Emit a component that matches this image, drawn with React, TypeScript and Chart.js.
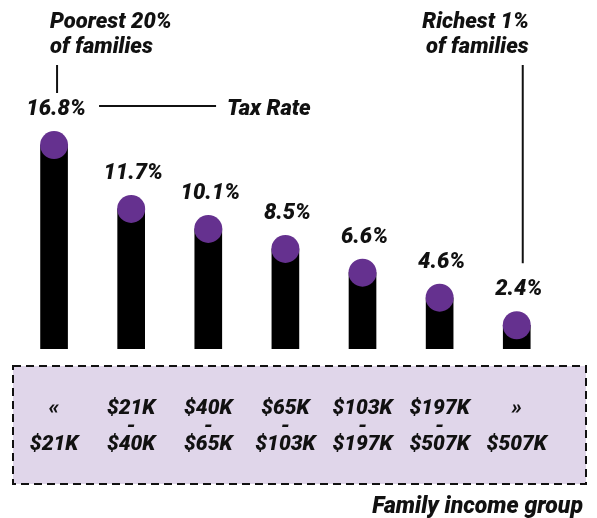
import React, { useEffect, useRef } from 'react';
import { Chart, registerables } from 'chart.js';

Chart.register(...registerables);

// ---- data ----
const incomeGroups: string[][] = [
  ['«', '', '$21K'],
  ['$21K', '-', '$40K'],
  ['$40K', '-', '$65K'],
  ['$65K', '-', '$103K'],
  ['$103K', '-', '$197K'],
  ['$197K', '-', '$507K'],
  ['»', '', '$507K'],
];
const taxRates: number[] = [16.8, 11.7, 10.1, 8.5, 6.6, 4.6, 2.4];
const leftNote: string[] = ['Poorest 20%', 'of families'];
const rightNote: string[] = ['Richest 1%', 'of families'];
const seriesLabel = 'Tax Rate';
const axisTitle = 'Family income group';

// ---- styles ----
const PURPLE = '#65318f';
const BOX_FILL = '#e0d6ea';
const FAMILY = 'Roboto, "Open Sans", sans-serif';
const WEIGHT = 900;
const font = (size: number) => `italic ${WEIGHT} ${size}px ${FAMILY}`;

const decor = {
  id: 'decor',
  beforeDraw(chart: any) {
    const { ctx, chartArea } = chart;
    const x0 = 13;
    const x1 = chart.width - 11;
    const y0 = chartArea.bottom + 17;
    const y1 = chartArea.bottom + 135;
    ctx.save();
    ctx.fillStyle = BOX_FILL;
    ctx.fillRect(x0, y0, x1 - x0, y1 - y0);
    ctx.setLineDash([8, 5]);
    ctx.lineWidth = 2;
    ctx.strokeStyle = '#111';
    ctx.strokeRect(x0, y0, x1 - x0, y1 - y0);
    ctx.restore();
  },
  afterDraw(chart: any) {
    const { ctx } = chart;
    const pts = chart.getDatasetMeta(1).data;
    if (!pts || !pts.length) return;
    ctx.save();
    ctx.fillStyle = '#111';
    ctx.strokeStyle = '#111';
    ctx.lineWidth = 2;
    ctx.setLineDash([]);

    // value labels
    ctx.font = font(22);
    ctx.textAlign = 'center';
    ctx.textBaseline = 'alphabetic';
    pts.forEach((p: any, i: number) => {
      ctx.fillText(`${taxRates[i].toFixed(1)}%`, p.x + 2, p.y - 30);
    });

    const first = pts[0];
    const last = pts[pts.length - 1];

    // Tax Rate series label
    const ty = first.y - 30;
    ctx.beginPath();
    ctx.moveTo(first.x + 45, ty - 9);
    ctx.lineTo(first.x + 162, ty - 9);
    ctx.stroke();
    ctx.font = font(22);
    ctx.textAlign = 'left';
    ctx.fillText(seriesLabel, first.x + 173, ty);

    // left note
    ctx.fillText(leftNote[0], first.x - 4, 28);
    ctx.fillText(leftNote[1], first.x - 4, 53);
    ctx.beginPath();
    ctx.moveTo(first.x + 3, 65);
    ctx.lineTo(first.x + 3, 93);
    ctx.stroke();

    // right note
    ctx.textAlign = 'right';
    ctx.fillText(rightNote[0], last.x + 12, 28);
    ctx.fillText(rightNote[1], last.x + 12, 53);
    ctx.beginPath();
    ctx.moveTo(last.x + 6, 65);
    ctx.lineTo(last.x + 6, last.y - 62);
    ctx.stroke();

    // axis title
    ctx.font = font(23);
    ctx.fillText(axisTitle, chart.width - 14, 513);
    ctx.restore();
  },
};

export default function App() {
  const ref = useRef<HTMLCanvasElement>(null);
  useEffect(() => {
    if (!ref.current) return;
    const chart = new Chart(ref.current, {
      type: 'bar',
      data: {
        labels: incomeGroups as any,
        datasets: [
          {
            type: 'bar',
            label: seriesLabel,
            data: taxRates,
            backgroundColor: '#000',
            barThickness: 27,
            order: 1,
          } as any,
          {
            type: 'line',
            label: seriesLabel,
            data: taxRates,
            showLine: false,
            pointRadius: 14,
            pointBackgroundColor: PURPLE,
            pointBorderWidth: 0,
            borderColor: PURPLE,
            order: 0,
          } as any,
        ],
      },
      options: {
        animation: false,
        responsive: true,
        maintainAspectRatio: false,
        events: [],
        layout: { autoPadding: false, padding: { left: 15.5, right: 41.7, top: 0, bottom: 0 } },
        plugins: {
          legend: { display: false },
          tooltip: { enabled: false },
        },
        scales: {
          x: {
            grid: { display: false, drawTicks: false },
            border: { display: false },
            ticks: {
              color: '#111',
              autoSkip: false,
              maxRotation: 0,
              padding: 51,
              font: { family: FAMILY, size: 21, style: 'italic', weight: WEIGHT, lineHeight: 0.86 },
            },
            afterFit: (s: any) => {
              s.height = 169;
              s.paddingLeft = 0;
              s.paddingRight = 0;
            },
          },
          y: { display: false, min: 0.5, max: 28.4 },
        },
      } as any,
      plugins: [decor],
    });
    return () => chart.destroy();
  }, []);

  return (
    <div style={{ position: 'absolute', left: 0, top: 0, width: 597, height: 518 }}>
      <canvas ref={ref} />
    </div>
  );
}
